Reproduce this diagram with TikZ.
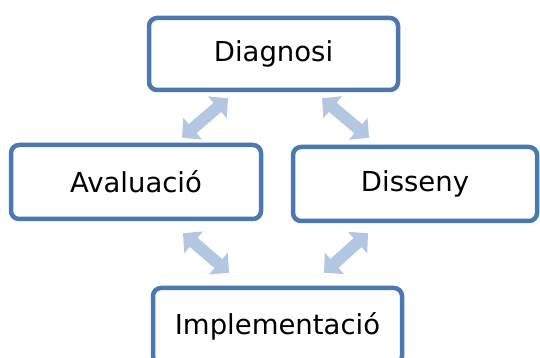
\documentclass[tikz,border=0pt]{standalone}
\usepackage{fontspec}
\setmainfont{DejaVu Sans}
\usetikzlibrary{arrows.meta}
\definecolor{boxblue}{RGB}{74,120,176}
\definecolor{arrowblue}{RGB}{180,199,226}
\tikzset{
  stagebox/.style={draw=boxblue, line width=4.5pt, rounded corners=8pt, fill=white,
    inner sep=0pt, font=\fontsize{27.5}{32}\selectfont, text=black},
  link/.style={draw=arrowblue, line width=12pt,
    {Triangle[length=14pt,width=28pt]}-{Triangle[length=14pt,width=28pt]}}
}
\begin{document}
\begin{tikzpicture}[x=1pt,y=1pt]
\useasboundingbox (0,0) rectangle (540,358);
\node[stagebox, minimum width=249pt, minimum height=72pt] (diag) at (273.5,304) {Diagnosi};
\node[stagebox, minimum width=250pt, minimum height=74pt] (aval) at (136,176) {Avaluació};
\node[stagebox, minimum width=244pt, minimum height=74pt] (diss) at (415,174) {Disseny};
\node[stagebox, minimum width=249pt, minimum height=76pt] (impl) at (277.5,32) {Implementació};
\draw[link] ([shift={(-45.5,-6)}]diag.south) -- ([shift={(46,5)}]aval.north);
\draw[link] ([shift={(48.5,-6)}]diag.south) -- ([shift={(-46,7)}]diss.north);
\draw[link] ([shift={(47,-12)}]aval.south) -- ([shift={(-48.5,13)}]impl.north);
\draw[link] ([shift={(-47,-10)}]diss.south) -- ([shift={(46.5,13)}]impl.north);
\end{tikzpicture}
\end{document}
